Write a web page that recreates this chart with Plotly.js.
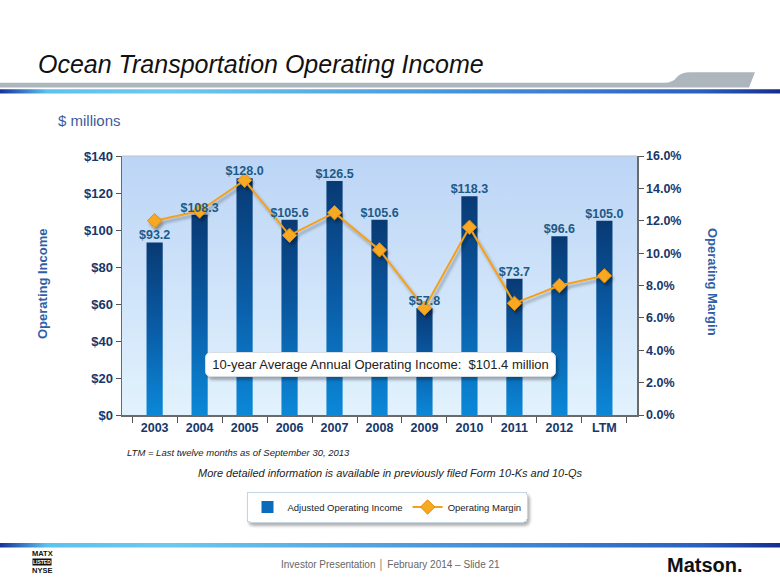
<!DOCTYPE html>
<html><head><meta charset="utf-8">
<script src="https://cdn.plot.ly/plotly-3.0.1.min.js"></script>
<style>html,body{margin:0;padding:0;background:#fff;}#chart{width:780px;height:585px;}</style>
</head><body>
<svg width="0" height="0" style="position:absolute">
<defs>
<linearGradient id="barGrad" x1="0" y1="0" x2="0" y2="1">
<stop offset="0" stop-color="#083a74"/><stop offset="0.5" stop-color="#0a5ca6"/><stop offset="1" stop-color="#0b88d8"/>
</linearGradient>
<linearGradient id="bgGrad" x1="0" y1="0" x2="0" y2="1">
<stop offset="0" stop-color="#bcd5f6"/><stop offset="1" stop-color="#e2f2fd"/>
</linearGradient>
<linearGradient id="lineGrad" x1="0" y1="0" x2="1" y2="0">
<stop offset="0" stop-color="#17329a"/><stop offset="0.06" stop-color="#5bc2f0"/><stop offset="0.22" stop-color="#6cc8f0"/><stop offset="0.6" stop-color="#4492da"/><stop offset="0.9" stop-color="#2a5fc0"/><stop offset="1" stop-color="#142e92"/>
</linearGradient>
<filter id="lineShadow" x="-5%" y="-10%" width="115%" height="130%">
<feDropShadow dx="2" dy="3" stdDeviation="1.5" flood-color="#000" flood-opacity="0.35"/>
</filter>
<filter id="boxShadow" x="-5%" y="-20%" width="115%" height="160%">
<feDropShadow dx="2" dy="3" stdDeviation="1.5" flood-color="#000" flood-opacity="0.3"/>
</filter>
</defs></svg>
<div id="chart"></div>
<script>
// ---- data ----
const years = ['2003','2004','2005','2006','2007','2008','2009','2010','2011','2012','LTM'];
const operatingIncome = [93.2,108.3,128.0,105.6,126.5,105.6,57.8,118.3,73.7,96.6,105.0];
const operatingMargin = [12.0,12.6,14.5,11.1,12.5,10.2,6.6,11.6,6.9,8.0,8.6];
const incomeLabels = operatingIncome.map(v => '$' + v.toFixed(1));
const avgText = '10-year Average Annual Operating Income:  $101.4 million';

// ---- geometry helpers (plot area 122..637 x 156..415 px) ----
const L = 122, R = 637, T = 156, B = 415;
const X = px => (px - L) / (R - L);
const Y = py => (B - py) / (B - T);

const FONT = 'Liberation Sans, Arial, Helvetica, sans-serif';
const NAVY = '#17376b';

const data = [
  {
    type: 'bar', name: 'Adjusted Operating Income', uid: 'incomebars',
    x: years, y: operatingIncome,
    marker: {color: '#0a6cba'},
    yaxis: 'y'
  },
  {
    type: 'scatter', mode: 'lines+markers', name: 'Operating Margin', uid: 'marginline',
    x: years, y: operatingMargin, yaxis: 'y2',
    line: {color: '#f5a01a', width: 2},
    marker: {symbol: 'diamond', size: 11, color: '#f8a823', line: {color: '#e58c00', width: 1}}
  },
  {
    type: 'scatter', mode: 'text', name: 'labels', showlegend: false, uid: 'incomelabels',
    x: years, y: operatingIncome, yaxis: 'y',
    text: incomeLabels, textposition: 'top center', cliponaxis: false,
    textfont: {family: FONT, size: 12.5, color: '#1d5a86', weight: 'bold'}
  }
];

const grayHeader = 'M ' + X(0) + ',' + Y(82.8) + ' L ' + X(664) + ',' + Y(82.8) +
  ' Q ' + X(673) + ',' + Y(82.8) + ' ' + X(677) + ',' + Y(77) +
  ' Q ' + X(681) + ',' + Y(72.3) + ' ' + X(690) + ',' + Y(72.3) +
  ' L ' + X(755) + ',' + Y(72.3) + ' L ' + X(749) + ',' + Y(87.4) +
  ' L ' + X(0) + ',' + Y(87.4) + ' Z';

const layout = {
  width: 780, height: 585,
  margin: {l: L, r: 780 - R, t: T, b: 585 - B, pad: 0},
  paper_bgcolor: '#ffffff', plot_bgcolor: 'rgba(0,0,0,0)',
  font: {family: FONT},
  showlegend: true,
  hovermode: false,
  bargap: 0.64,
  title: {
    text: 'Ocean Transportation Operating Income',
    xref: 'container', yref: 'container',
    x: 38 / 780, xanchor: 'left', y: 1 - 64 / 585, yanchor: 'middle',
    font: {family: FONT, size: 25, color: '#111', style: 'italic'}
  },
  xaxis: {
    type: 'category', showgrid: false, zeroline: false,
    showline: true, linecolor: '#6a6a6a', linewidth: 1.5,
    ticks: 'outside', tickson: 'boundaries', ticklen: 6, tickcolor: '#555',
    tickfont: {family: FONT, size: 12.5, color: NAVY, weight: 'bold'},
    fixedrange: true
  },
  yaxis: {
    range: [0, 140], dtick: 20, tickprefix: '$', showgrid: false, zeroline: false,
    showline: true, linecolor: '#6a6a6a', linewidth: 1.5,
    ticks: 'outside', ticklen: 5, tickcolor: '#555',
    tickfont: {family: FONT, size: 13, color: NAVY, weight: 'bold'},
    fixedrange: true
  },
  yaxis2: {
    overlaying: 'y', side: 'right', range: [0, 16], dtick: 2,
    tickformat: '.1f', ticksuffix: '%', showgrid: false, zeroline: false,
    showline: true, linecolor: '#6a6a6a', linewidth: 1.5,
    ticks: 'outside', ticklen: 5, tickcolor: '#555',
    tickfont: {family: FONT, size: 12.5, color: NAVY, weight: 'bold'},
    fixedrange: true
  },
  legend: {
    orientation: 'h', xref: 'paper', yref: 'paper',
    x: X(387), xanchor: 'center', y: Y(507), yanchor: 'middle',
    bgcolor: '#ffffff', bordercolor: '#c4d4e0', borderwidth: 1,
    font: {family: FONT, size: 9.5, color: '#222'},
    itemclick: false, itemdoubleclick: false
  },
  shapes: [
    {type: 'rect', xref: 'paper', yref: 'paper', x0: 0, x1: 1, y0: 0, y1: 1,
     fillcolor: 'rgb(1,1,1)', line: {width: 0}, layer: 'below'},
    {type: 'line', xref: 'paper', yref: 'paper', x0: 0, x1: 1, y0: 1, y1: 1,
     line: {color: '#b9c3cc', width: 1}, layer: 'below'},
    {type: 'path', xref: 'paper', yref: 'paper', path: grayHeader,
     fillcolor: '#adb6bd', line: {width: 0}},
    {type: 'rect', xref: 'paper', yref: 'paper', x0: X(0), x1: X(780), y0: Y(93.6), y1: Y(89.2),
     fillcolor: 'rgb(2,2,2)', line: {width: 0}},
    {type: 'rect', xref: 'paper', yref: 'paper', x0: X(0), x1: X(780), y0: Y(547.5), y1: Y(543),
     fillcolor: 'rgb(2,2,2)', line: {width: 0}}
  ],
  annotations: [
    {text: '$ millions', xref: 'paper', yref: 'paper', x: X(56), y: Y(120), xanchor: 'left', yanchor: 'middle',
     showarrow: false, font: {family: FONT, size: 15, color: '#3d5b9b'}},
    {text: 'Operating Income', xref: 'paper', yref: 'paper', x: X(42), y: Y(284), textangle: -90,
     xanchor: 'center', yanchor: 'middle',
     showarrow: false, font: {family: FONT, size: 13, color: '#2f60a6', weight: 'bold'}},
    {text: 'Operating Margin', xref: 'paper', yref: 'paper', x: X(713), y: Y(282), textangle: 90,
     xanchor: 'center', yanchor: 'middle',
     showarrow: false, font: {family: FONT, size: 13, color: '#2f60a6', weight: 'bold'}},
    {text: avgText, xref: 'paper', yref: 'paper', x: X(380), y: Y(364), xanchor: 'center', yanchor: 'middle',
     showarrow: false, width: 343, height: 17, borderpad: 3, bgcolor: '#ffffff', bordercolor: '#d6dde3', borderwidth: 1,
     font: {family: FONT, size: 13, color: '#222'}},
    {text: 'LTM = Last twelve months as of September 30, 2013', xref: 'paper', yref: 'paper', x: X(125), y: Y(452),
     xanchor: 'left', yanchor: 'middle', showarrow: false,
     font: {family: FONT, size: 9.5, color: '#222', style: 'italic'}},
    {text: 'More detailed information is available in previously filed Form 10-Ks and 10-Qs', xref: 'paper', yref: 'paper',
     x: X(390), y: Y(473), xanchor: 'center', yanchor: 'middle', showarrow: false,
     font: {family: FONT, size: 11, color: '#222', style: 'italic'}},
    {text: 'Investor Presentation │ February 2014 – Slide 21', xref: 'paper', yref: 'paper',
     x: X(390), y: Y(565), xanchor: 'center', yanchor: 'middle', showarrow: false,
     font: {family: FONT, size: 10, color: '#666'}},
    {text: 'MATX', xref: 'paper', yref: 'paper', x: X(42), y: Y(553), xanchor: 'center', yanchor: 'middle', showarrow: false,
     font: {family: FONT, size: 7.5, color: '#111', weight: 'bold'}},
    {text: 'LISTED', xref: 'paper', yref: 'paper', x: X(42), y: Y(561.5), xanchor: 'center', yanchor: 'middle', showarrow: false,
     bgcolor: '#111', borderpad: 0, font: {family: FONT, size: 5, color: '#fff', weight: 'bold'}},
    {text: 'NYSE', xref: 'paper', yref: 'paper', x: X(42), y: Y(570), xanchor: 'center', yanchor: 'middle', showarrow: false,
     font: {family: FONT, size: 7.5, color: '#111', weight: 'bold'}},
    {text: 'Matson.', xref: 'paper', yref: 'paper', x: X(705), y: Y(565), xanchor: 'center', yanchor: 'middle', showarrow: false,
     font: {family: FONT, size: 20, color: '#111', weight: 'bold'}}
  ]
};

const config = {displayModeBar: false, staticPlot: true, responsive: false};

Plotly.newPlot('chart', data, layout, config).then(function (gd) {
  gd.querySelectorAll('.barlayer .point path').forEach(p => { p.style.fill = 'url(#barGrad)'; });
  gd.querySelectorAll('.shapelayer path').forEach(p => {
    const f = p.style.fill.replace(/\s/g, '');
    if (f === 'rgb(1,1,1)') p.style.fill = 'url(#bgGrad)';
    else if (f === 'rgb(2,2,2)') p.style.fill = 'url(#lineGrad)';
  });
  // find the line trace and the label trace groups
  let lineG = null, labelG = null;
  gd.querySelectorAll('.scatterlayer .trace').forEach(g => {
    if (g.querySelector('path.js-line')) lineG = g;
    else if (g.querySelector('.textpoint')) labelG = g;
  });
  if (lineG) {
    lineG.setAttribute('filter', 'url(#lineShadow)');
    // draw the value labels above the margin line, as in the original
    if (labelG) lineG.parentNode.appendChild(labelG);
  }
  gd.querySelectorAll('.legend rect.bg').forEach(r => { r.setAttribute('filter', 'url(#boxShadow)'); r.setAttribute('rx', 3); });
  gd.querySelectorAll('.annotation').forEach(a => {
    if (a.textContent.indexOf('10-year') === 0) {
      const r = a.querySelector('rect.bg');
      if (r) { r.setAttribute('filter', 'url(#boxShadow)'); r.setAttribute('rx', 5); }
    }
  });
});
</script>
</body></html>
